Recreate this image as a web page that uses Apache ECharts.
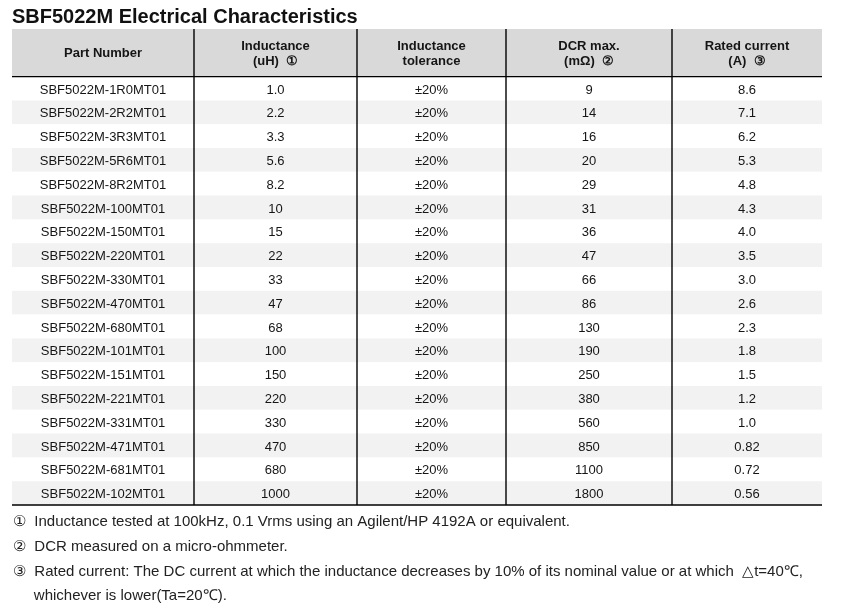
<!DOCTYPE html>
<html>
<head>
<meta charset="utf-8">
<script src="https://cdn.jsdelivr.net/npm/echarts@6/dist/echarts.min.js"></script>
<style>html,body{margin:0;padding:0;background:#fff}#c{width:843px;height:614px}</style>
</head>
<body>
<div id="c"></div>
<script>
const titleText = 'SBF5022M Electrical Characteristics';
const headers = ['Part Number', 'Inductance\n(uH)  ①', 'Inductance\ntolerance', 'DCR max.\n(mΩ)  ②', 'Rated current\n(A)  ③'];
const partNumbers = ['SBF5022M-1R0MT01','SBF5022M-2R2MT01','SBF5022M-3R3MT01','SBF5022M-5R6MT01','SBF5022M-8R2MT01','SBF5022M-100MT01','SBF5022M-150MT01','SBF5022M-220MT01','SBF5022M-330MT01','SBF5022M-470MT01','SBF5022M-680MT01','SBF5022M-101MT01','SBF5022M-151MT01','SBF5022M-221MT01','SBF5022M-331MT01','SBF5022M-471MT01','SBF5022M-681MT01','SBF5022M-102MT01'];
const inductance = ['1.0','2.2','3.3','5.6','8.2','10','15','22','33','47','68','100','150','220','330','470','680','1000'];
const tolerance = ['±20%','±20%','±20%','±20%','±20%','±20%','±20%','±20%','±20%','±20%','±20%','±20%','±20%','±20%','±20%','±20%','±20%','±20%'];
const dcrMax = ['9','14','16','20','29','31','36','47','66','86','130','190','250','380','560','850','1100','1800'];
const ratedCurrent = ['8.6','7.1','6.2','5.3','4.8','4.3','4.0','3.5','3.0','2.6','2.3','1.8','1.5','1.2','1.0','0.82','0.72','0.56'];
const footnotes = [
  '①  Inductance tested at 100kHz, 0.1 Vrms using an Agilent/HP 4192A or equivalent.',
  '②  DCR measured on a micro-ohmmeter.',
  '③  Rated current: The DC current at which the inductance decreases by 10% of its nominal value or at which  △t=40℃,',
  '     whichever is lower(Ta=20℃).'
];

// layout (table geometry in axis units)
const colEdges = [0, 182, 345, 494, 660, 810];
const headerRows = 2;
const totalRows = headerRows + partNumbers.length;

const columns = [partNumbers, inductance, tolerance, dcrMax, ratedCurrent];
const cellData = [];
headers.forEach((h, c) => cellData.push([c, -1, h]));
for (let r = 0; r < partNumbers.length; r++) {
  for (let c = 0; c < columns.length; c++) cellData.push([c, r, columns[c][r]]);
}
const bgData = [[-1]].concat(partNumbers.map((_, r) => [r]));
const lineData = [
  [colEdges[1], 0, colEdges[1], totalRows],
  [colEdges[2], 0, colEdges[2], totalRows],
  [colEdges[3], 0, colEdges[3], totalRows],
  [colEdges[4], 0, colEdges[4], totalRows],
  [0, headerRows, colEdges[5], headerRows],
  [0, totalRows, colEdges[5], totalRows]
];

const chart = echarts.init(document.getElementById('c'), null, {renderer: 'canvas'});
const titles = [{
  text: titleText, left: 12, top: 5, padding: 0,
  textStyle: {fontFamily: 'Liberation Sans, Arial, sans-serif', fontSize: 20, fontWeight: 'bold', color: '#111', lineHeight: 24}
}];
const fnTops = [512, 537, 562, 586];
footnotes.forEach((t, i) => titles.push({
  text: t, left: 13, top: fnTops[i], padding: 0,
  textStyle: {fontFamily: 'Liberation Sans, Arial, sans-serif', fontSize: 15, fontWeight: 'normal', color: '#222', lineHeight: 20}
}));

chart.setOption({
  animation: false,
  title: titles,
  grid: {left: 12, right: 21, top: 29, bottom: 109},
  xAxis: {type: 'value', min: 0, max: colEdges[5], show: false},
  yAxis: {type: 'value', min: 0, max: totalRows, inverse: true, show: false},
  series: [
    {
      type: 'custom', data: bgData, silent: true, z: 1,
      renderItem: (params, api) => {
        const r = api.value(0);
        let y0, y1, fill;
        if (r < 0) { y0 = 0; y1 = headerRows; fill = '#d9d9d9'; }
        else { y0 = headerRows + r; y1 = headerRows + r + 1; fill = (r % 2 === 1) ? '#f2f2f2' : '#ffffff'; }
        const p0 = api.coord([0, y0]), p1 = api.coord([colEdges[5], y1]);
        return {type: 'rect', shape: {x: p0[0], y: p0[1], width: p1[0] - p0[0], height: p1[1] - p0[1]}, style: {fill: fill}};
      }
    },
    {
      type: 'custom', data: lineData, silent: true, z: 2,
      renderItem: (params, api) => {
        const a = api.coord([api.value(0), api.value(1)]);
        const b = api.coord([api.value(2), api.value(3)]);
        return {type: 'line', shape: {x1: a[0], y1: a[1], x2: b[0], y2: b[1]}, style: {stroke: '#000', lineWidth: 1.4}};
      }
    },
    {
      type: 'custom', data: cellData, silent: true, z: 3,
      encode: {x: 0, y: 1},
      renderItem: (params, api) => {
        const c = api.value(0), r = api.value(1);
        const item = cellData[params.dataIndex];
        const xc = (colEdges[c] + colEdges[c + 1]) / 2;
        const yc = r < 0 ? headerRows / 2 : headerRows + r + 0.5;
        const p = api.coord([xc, yc]);
        return {
          type: 'text', x: p[0], y: p[1] + (r < 0 ? 1 : 1.5),
          style: {
            text: item[2], align: 'center', verticalAlign: 'middle',
            font: (r < 0 ? 'bold ' : '') + '13px "Liberation Sans", Arial, sans-serif',
            fill: '#151515', lineHeight: 15
          }
        };
      }
    }
  ]
});
</script>
</body>
</html>
